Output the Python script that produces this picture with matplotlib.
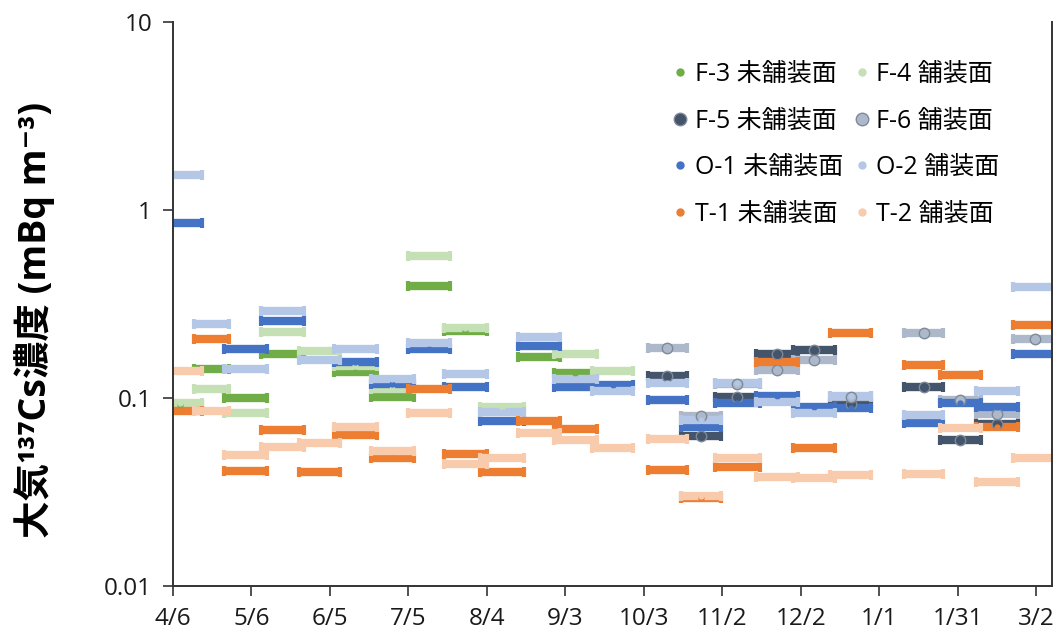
import matplotlib
matplotlib.use("Agg")
import matplotlib.pyplot as plt
from matplotlib.lines import Line2D

# sampling periods, days counted from 4/6
period_start = [-5.5, 8, 19.5, 33.5, 48, 61.5, 75.5, 90, 103.5, 117.5, 132, 145.5, 160,
                181.5, 194, 207, 223, 237, 251, 279.5, 293, 307, 321]
period_end = [11, 21.5, 36, 50, 64, 78, 92, 106, 120, 134, 148, 162, 176,
              196.5, 209.5, 224.5, 239, 253, 267, 294.5, 309, 323, 338]

N = None
f3 = [0.092, 0.143, 0.100, 0.172, N, 0.137, 0.101, 0.396, 0.226, N, 0.166, 0.135, N,
      N, N, N, N, N, N, N, N, N, N]
f4 = [0.0937, 0.112, 0.083, 0.225, 0.177, 0.148, 0.112, 0.571, 0.236, 0.090, N, 0.171, 0.140,
      N, N, N, N, N, N, N, N, N, N]
f5 = [N, N, N, N, N, N, N, N, N, N, N, N, N,
      0.131, 0.063, 0.101, 0.172, 0.180, 0.093, 0.114, 0.060, 0.073, N]
f6 = [N, N, N, N, N, N, N, N, N, N, N, N, N,
      0.184, 0.080, 0.118, 0.141, 0.159, 0.101, 0.223, 0.097, 0.082, 0.206]
o1 = [0.853, N, 0.182, 0.256, N, 0.156, 0.118, 0.182, 0.115, 0.0757, 0.190, 0.114, 0.117,
      0.0976, 0.070, 0.094, 0.103, 0.090, 0.088, 0.0733, 0.0944, 0.090, 0.1715]
o2 = [1.535, 0.248, 0.142, 0.291, 0.160, 0.182, 0.126, 0.196, 0.134, 0.0846, 0.210, 0.126, 0.109,
      0.120, 0.076, 0.120, 0.0956, 0.083, 0.102, 0.0812, N, 0.109, 0.391]
t1 = [0.0857, 0.206, 0.0411, 0.0676, 0.0406, 0.0636, 0.0478, 0.111, 0.0504, 0.0406, 0.0755, 0.0684, N,
      0.0414, 0.0295, 0.0427, 0.155, 0.054, 0.223, 0.150, 0.1325, 0.070, 0.245]
t2 = [0.140, 0.0857, 0.0497, 0.0547, 0.0574, 0.0699, 0.0524, 0.0835, 0.0444, 0.0478, 0.0649, 0.0598, 0.054,
      0.0605, 0.0302, 0.0478, 0.0379, 0.0374, 0.0389, 0.0394, 0.069, 0.0359, 0.0481]

names = ['F-3 未舗装面', 'F-4 舗装面', 'F-5 未舗装面', 'F-6 舗装面',
         'O-1 未舗装面', 'O-2 舗装面', 'T-1 未舗装面', 'T-2 舗装面']
series = [f3, f4, f5, f6, o1, o2, t1, t2]
colors = ['#70AD47', '#C5E0B4', '#44546A', '#ADB9CA', '#4472C4', '#B4C7E7', '#ED7D31', '#F8CBAD']

tick_days = [0, 30, 60, 90, 120, 150, 180, 210, 240, 270, 300, 330]
tick_labels = ['4/6', '5/6', '6/5', '7/5', '8/4', '9/3', '10/3', '11/2', '12/2', '1/1', '1/31', '3/2']

plt.rcParams['font.family'] = ['Open Sans', 'Noto Sans CJK JP', 'DejaVu Sans']

fig = plt.figure(figsize=(10.61, 6.38), dpi=100)
ax = fig.add_axes([173 / 1061, 1 - 586 / 638, 879 / 1061, 564 / 638])

handles = []
for name, vals, c in zip(names, series, colors):
    big = name.startswith('F-5') or name.startswith('F-6')
    xs, ys, xe = [], [], []
    for s, e, v in zip(period_start, period_end, vals):
        if v is None:
            continue
        xs.append((s + e) / 2)
        ys.append(v)
        xe.append((e - s) / 2)
    ax.errorbar(xs, ys, xerr=xe, fmt='none', ecolor=c, elinewidth=6,
                capsize=3.6, capthick=3, zorder=2)
    if big:
        ax.plot(xs, ys, ls='none', marker='o', ms=7.5, mfc=c, mec='#7F8A99', mew=1, zorder=3)
        handles.append(Line2D([], [], ls='none', marker='o', ms=9, mfc=c, mec='#7F8A99', mew=1))
    else:
        ax.plot(xs, ys, ls='none', marker='o', ms=3.5, color=c, zorder=3)
        handles.append(Line2D([], [], ls='none', marker='o', ms=5, color=c))

ax.set_yscale('log')
ax.set_ylim(0.01, 10)
ax.set_yticks([0.01, 0.1, 1, 10])
ax.set_yticklabels(['0.01', '0.1', '1', '10'])
ax.minorticks_off()
ax.set_xlim(0, 336)
ax.set_xticks(tick_days)
ax.set_xticklabels(tick_labels)
ax.tick_params(labelsize=17.5, length=7, width=1.2, color='#333333', labelcolor='#1a1a1a', pad=8)

for sp in ['left', 'bottom', 'right']:
    ax.spines[sp].set_color('#333333')
    ax.spines[sp].set_linewidth(1.4)
ax.spines['top'].set_visible(False)

ax.set_ylabel('大気¹³⁷Cs濃度 (mBq m⁻³)', fontsize=27, fontweight='bold',
              family=['Open Sans', 'Noto Sans CJK JP', 'DejaVu Sans'])
ax.yaxis.set_label_coords(-0.134, 0.472)

order = [0, 2, 4, 6, 1, 3, 5, 7]
ax.legend([handles[i] for i in order], [names[i] for i in order], ncol=2,
          loc='upper left', bbox_to_anchor=(0.5695, 0.929), frameon=False,
          fontsize=18, handlelength=0.5, handletextpad=0.34, columnspacing=0.5,
          labelspacing=0.86, borderpad=0, borderaxespad=0)

fig.savefig('out.png', dpi=100)
